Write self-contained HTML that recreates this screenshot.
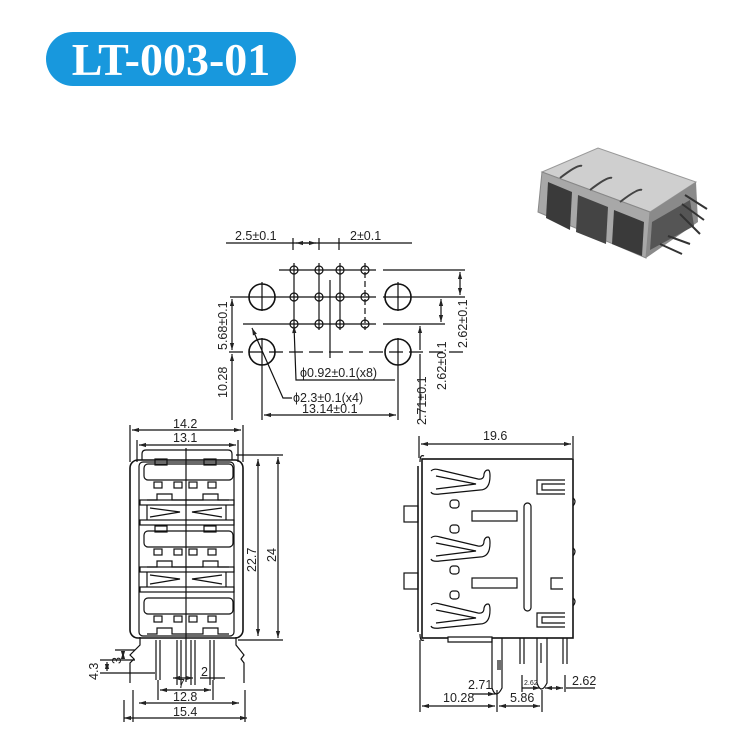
<!DOCTYPE html>
<html><head><meta charset="utf-8"><style>
html,body{margin:0;padding:0;background:#fff}
svg{display:block}
text{font-family:"Liberation Sans",sans-serif;font-size:12.5px;fill:#222}
</style></head><body>
<svg width="735" height="744" viewBox="0 0 735 744" xmlns="http://www.w3.org/2000/svg">
<defs>
<marker id="a" viewBox="0 0 10 10" refX="10" refY="5" markerWidth="6" markerHeight="6" orient="auto-start-reverse"><path d="M0,2 L10,5 L0,8 z" fill="#222"/></marker>
</defs>
<rect x="46" y="32" width="250" height="54" rx="27" fill="#1898dd"/>
<text x="171" y="75" text-anchor="middle" style="font-family:'Liberation Serif',serif;font-weight:bold;font-size:46px;fill:#fff">LT-003-01</text>

<g>
<polygon points="542,172 598,148 696,182 650,212" fill="#cfcfcf" stroke="#999"/>
<polygon points="542,172 650,212 646,258 538,212" fill="#a8a8a8" stroke="#888"/>
<polygon points="650,212 696,182 698,222 646,258" fill="#8a8a8a"/>
<polygon points="548,182 572,192 570,230 546,218" fill="#3a3a3a"/>
<polygon points="578,195 608,207 606,244 576,232" fill="#444"/>
<polygon points="614,210 644,222 642,256 612,244" fill="#3a3a3a"/>
<polygon points="652,222 690,200 694,226 650,250" fill="#555"/>
<path d="M560,178 q18,-14 22,-12 M590,190 q18,-14 22,-12 M620,202 q18,-14 22,-12" stroke="#444" stroke-width="2" fill="none"/>
<path d="M685,195 l22,14 M682,204 l22,16 M680,214 l20,20 M668,236 l22,8 M660,244 l22,10" stroke="#333" stroke-width="2"/>
</g>

<g fill="none" stroke="#111" stroke-width="1.2">
<line x1="226" y1="243" x2="412" y2="243"/>
<line x1="293" y1="238" x2="293" y2="250"/><line x1="319" y1="238" x2="319" y2="250"/><line x1="339" y1="238" x2="339" y2="250"/>
<line x1="296" y1="243" x2="316" y2="243" marker-start="url(#a)" marker-end="url(#a)"/>
<line x1="279" y1="270" x2="376" y2="270"/><line x1="383" y1="270" x2="465" y2="270"/>
<line x1="230" y1="297" x2="376" y2="297"/><line x1="383" y1="297" x2="465" y2="297"/>
<line x1="243" y1="324" x2="376" y2="324"/><line x1="383" y1="324" x2="445" y2="324"/>
<line x1="229" y1="352" x2="465" y2="352" stroke-dasharray="14,6"/>
<line x1="330" y1="280" x2="330" y2="358"/>
<line x1="294" y1="263" x2="294" y2="330"/><line x1="319" y1="263" x2="319" y2="330"/><line x1="340" y1="263" x2="340" y2="330"/>
<line x1="365" y1="263" x2="365" y2="330" stroke-dasharray="6,3"/>
<g>
<circle cx="294" cy="270" r="4"/><circle cx="319" cy="270" r="4"/><circle cx="340" cy="270" r="4"/><circle cx="365" cy="270" r="4"/>
<circle cx="294" cy="297" r="4"/><circle cx="319" cy="297" r="4"/><circle cx="340" cy="297" r="4"/><circle cx="365" cy="297" r="4"/>
<circle cx="294" cy="324" r="4"/><circle cx="319" cy="324" r="4"/><circle cx="340" cy="324" r="4"/><circle cx="365" cy="324" r="4"/>
</g>
<circle cx="262" cy="297" r="13" stroke-width="1.6"/><circle cx="398" cy="297" r="13" stroke-width="1.6"/>
<circle cx="262" cy="352" r="13" stroke-width="1.6"/><circle cx="398" cy="352" r="13" stroke-width="1.6"/>
<line x1="262" y1="282" x2="262" y2="311"/><line x1="398" y1="282" x2="398" y2="311"/>
<line x1="262" y1="338" x2="262" y2="420"/><line x1="398" y1="338" x2="398" y2="420"/>
<line x1="232" y1="299" x2="232" y2="350" marker-start="url(#a)" marker-end="url(#a)"/>
<line x1="232" y1="354" x2="232" y2="420" marker-start="url(#a)"/>
<line x1="460" y1="272" x2="460" y2="295" marker-start="url(#a)" marker-end="url(#a)"/>
<line x1="441" y1="299" x2="441" y2="322" marker-start="url(#a)" marker-end="url(#a)"/>
<line x1="420" y1="350" x2="420" y2="326" marker-end="url(#a)"/>
<line x1="420" y1="354" x2="420" y2="420"/>
<line x1="264" y1="415" x2="396" y2="415" marker-start="url(#a)" marker-end="url(#a)"/>
<polyline points="294,326 296,380 395,380" marker-start="url(#a)"/>
<polyline points="252,328 283,398 292,398" marker-start="url(#a)"/>

<line x1="130" y1="425" x2="130" y2="462"/><line x1="243" y1="425" x2="243" y2="462"/>
<line x1="132" y1="430" x2="241" y2="430" marker-start="url(#a)" marker-end="url(#a)"/>
<line x1="137" y1="440" x2="137" y2="462"/><line x1="238" y1="440" x2="238" y2="462"/>
<line x1="139" y1="445" x2="236" y2="445" marker-start="url(#a)" marker-end="url(#a)"/>
<path d="M142,460 v-6 q0,-4 4,-4 h82 q4,0 4,4 v6"/>
<rect x="130" y="460" width="113" height="178" rx="8" stroke-width="1.6"/>
<rect x="139" y="462" width="95" height="174" rx="4"/>
<line x1="186" y1="448" x2="186" y2="682"/>
<line x1="236" y1="455" x2="283" y2="455"/><line x1="238" y1="640" x2="283" y2="640"/>
<line x1="258" y1="459" x2="258" y2="636" marker-start="url(#a)" marker-end="url(#a)"/>
<line x1="278" y1="457" x2="278" y2="638" marker-start="url(#a)" marker-end="url(#a)"/>
<g id="port">
<rect x="144" y="464" width="89" height="16" rx="4"/>
<rect x="155" y="459" width="12" height="6"/><rect x="204" y="459" width="12" height="6"/>
<rect x="154" y="482" width="8" height="6"/><rect x="174" y="482" width="8" height="6"/><rect x="189" y="482" width="8" height="6"/><rect x="208" y="482" width="8" height="6"/>
<path d="M147,500 h10 v-6 h15 v6 h31 v-6 h15 v6 h11"/>
<rect x="140" y="500" width="94" height="5"/>
<path d="M147,505 v15 M226,505 v15 M150,508 L180,512 L150,517 M222,508 L192,512 L222,517"/>
<rect x="140" y="520" width="94" height="5"/>
</g>
<use href="#port" transform="translate(0,67)"/>
<g transform="translate(0,134)">
<rect x="144" y="464" width="89" height="16" rx="4"/>
<rect x="154" y="482" width="8" height="6"/><rect x="174" y="482" width="8" height="6"/><rect x="189" y="482" width="8" height="6"/><rect x="208" y="482" width="8" height="6"/>
<path d="M147,500 h10 v-6 h15 v6 h31 v-6 h15 v6 h11"/>
</g>
<path d="M140,637 v8 l-10,10 l4,4 l-4,4 v20 M236,637 v8 l8,10 l-3,4 l3,4 v20"/>
<path d="M156,640 v40 M160,640 v40 M177,640 v45 M181,640 v45 M191,640 v45 M195,640 v45 M210,640 v45 M214,640 v40"/>
<line x1="100" y1="660" x2="135" y2="660"/><line x1="100" y1="673" x2="155" y2="673"/><line x1="115" y1="650" x2="135" y2="650"/>
<line x1="107" y1="662" x2="107" y2="671" marker-start="url(#a)" marker-end="url(#a)"/>
<line x1="123" y1="652" x2="123" y2="658" marker-start="url(#a)" marker-end="url(#a)"/>
<line x1="158" y1="680" x2="158" y2="700"/><line x1="213" y1="680" x2="213" y2="700"/>
<line x1="173" y1="678" x2="193" y2="678" marker-start="url(#a)" marker-end="url(#a)"/>
<line x1="160" y1="690" x2="211" y2="690" marker-start="url(#a)" marker-end="url(#a)"/>
<line x1="200" y1="678" x2="225" y2="678"/>
<line x1="133" y1="690" x2="133" y2="722"/><line x1="245" y1="690" x2="245" y2="722"/>
<line x1="139" y1="703" x2="239" y2="703" marker-start="url(#a)" marker-end="url(#a)"/>
<line x1="124" y1="718" x2="247" y2="718" marker-start="url(#a)" marker-end="url(#a)"/>
<line x1="124" y1="700" x2="124" y2="722"/>

<line x1="419" y1="436" x2="419" y2="458"/><line x1="573" y1="436" x2="573" y2="458"/>
<line x1="421" y1="444" x2="571" y2="444" marker-start="url(#a)" marker-end="url(#a)"/>
<rect x="422" y="459" width="151" height="179" stroke-width="1.6"/>
<line x1="418" y1="466" x2="418" y2="632" stroke-width="1.5"/>
<path d="M420,462 q0,-8 4,-6 M420,634 q0,8 4,6"/>
<rect x="404" y="506" width="14" height="16"/><rect x="404" y="573" width="14" height="16"/>
<g id="spring">
<path d="M431,471 Q434,468 440,470 L478,479 Q484,480 484,474 Q485,470 488,470 Q490,470 490,476 Q490,490 480,490 L440,494 Q432,495 431,492"/>
<path d="M436,476 L476,484 L436,489"/>
</g>
<use href="#spring" transform="translate(0,67)"/><use href="#spring" transform="translate(0,134)"/>
<rect x="450" y="500" width="9" height="8" rx="3"/><rect x="450" y="525" width="9" height="8" rx="3"/>
<rect x="450" y="566" width="9" height="8" rx="3"/><rect x="450" y="591" width="9" height="8" rx="3"/>
<rect x="472" y="511" width="45" height="10"/><rect x="472" y="578" width="45" height="10"/>
<rect x="524" y="503" width="7" height="108" rx="3.5"/>
<path d="M565,480 h-28 v14 h28 M565,484 h-23 v6 h23"/>
<path d="M565,613 h-28 v14 h28 M565,617 h-23 v6 h23"/>
<path d="M563,578 h-12 v11 h12"/>
<path d="M573,498 q4,3 0,8 M573,548 q4,3 0,8 M573,598 q4,3 0,8"/>
<path d="M448,642 h44 v-5 h-44 z" fill="#fff"/>
<path d="M492,638 v50 q4,12 10,0 v-50 M498,660 v10 M500,660 v10"/>
<path d="M520,638 v26 M524,638 v26"/>
<path d="M537,638 v45 q4,12 10,0 v-45 M541,643 v20"/>
<path d="M563,638 v26 M567,638 v26"/>
<line x1="420" y1="640" x2="420" y2="712"/>
<line x1="497" y1="690" x2="497" y2="712"/><line x1="542" y1="690" x2="542" y2="712"/>
<line x1="422" y1="706" x2="495" y2="706" marker-start="url(#a)" marker-end="url(#a)"/>
<line x1="499" y1="706" x2="540" y2="706" marker-start="url(#a)" marker-end="url(#a)"/>
<line x1="472" y1="694" x2="495" y2="694" marker-end="url(#a)"/>
<line x1="522" y1="675" x2="522" y2="692"/><line x1="522" y1="688" x2="540" y2="688" marker-end="url(#a)"/>
<line x1="565" y1="675" x2="565" y2="692"/><line x1="545" y1="688" x2="563" y2="688" marker-start="url(#a)" marker-end="url(#a)"/>
<line x1="566" y1="688" x2="595" y2="688"/>
</g>

<text x="235" y="240">2.5±0.1</text>
<text x="350" y="240">2±0.1</text>
<text x="300" y="377">ϕ0.92±0.1(x8)</text>
<text x="293" y="402">ϕ2.3±0.1(x4)</text>
<text x="302" y="413">13.14±0.1</text>
<text transform="translate(227,350) rotate(-90)">5.68±0.1</text>
<text transform="translate(227,398) rotate(-90)">10.28</text>
<text transform="translate(467,348) rotate(-90)">2.62±0.1</text>
<text transform="translate(446,390) rotate(-90)">2.62±0.1</text>
<text transform="translate(426,425) rotate(-90)">2.71±0.1</text>
<text x="173" y="428">14.2</text>
<text x="173" y="442">13.1</text>
<text transform="translate(256,572) rotate(-90)">22.7</text>
<text transform="translate(276,562) rotate(-90)">24</text>
<text transform="translate(98,680) rotate(-90)">4.3</text>
<text transform="translate(121,664) rotate(-90)">3</text>
<text x="201" y="676">2</text>
<text x="178" y="688">7</text>
<text x="173" y="701">12.8</text>
<text x="173" y="716">15.4</text>
<text x="483" y="440">19.6</text>
<text x="468" y="689">2.71</text>
<text x="443" y="702">10.28</text>
<text x="510" y="702">5.86</text>
<text x="524" y="685" style="font-size:7px">2.62</text>
<text x="572" y="685">2.62</text>
</svg>
</body></html>
